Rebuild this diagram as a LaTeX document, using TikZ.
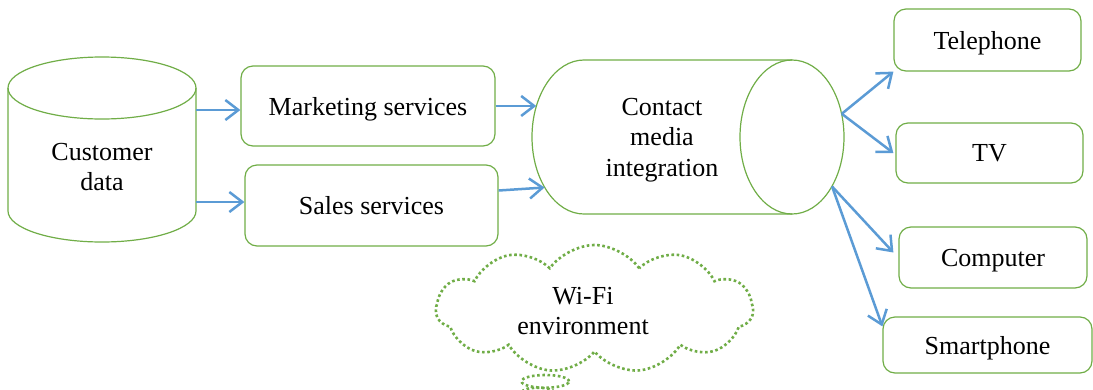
\documentclass[tikz,border=0pt]{standalone}
\usepackage{fontspec}
\setmainfont{Liberation Serif}
\usetikzlibrary{arrows.meta,shapes.geometric,shapes.callouts,shapes.symbols}
\definecolor{gr}{HTML}{70AD47}
\definecolor{bl}{HTML}{5B9BD5}
\begin{document}
\begin{tikzpicture}[x=1pt,y=-1pt,
  font=\fontsize{26}{30.5}\selectfont,
  gline/.style={draw=gr, line width=1.2pt},
  rbox/.style={gline, rounded corners=12pt, align=center, inner sep=0pt, text depth=0pt},
  arr/.style={draw=bl, line width=2.5pt, -{Straight Barb[length=13pt,width=20pt]}},
  ghost/.style={ellipse, inner sep=0pt, draw=none}]
\useasboundingbox (0,0) rectangle (1093,389);

% Customer data cylinder
\draw[gline] (8,88) -- (8,211) arc[start angle=180, end angle=360, x radius=94pt, y radius=31pt] -- (196,88);
\draw[gline] (102,88) ellipse[x radius=94pt, y radius=31pt];
\node[minimum width=188pt, minimum height=185pt, inner sep=0pt] (cd) at (102,150) {};
\node[align=center] (cdt) at (102,167) {Customer\\data};

% Boxes
\node[rbox, minimum width=254pt, minimum height=80pt] (mk) at (368,106) {Marketing services};
\node[rbox, minimum width=253pt, minimum height=81pt] (sl) at (371.5,205.5) {Sales services};

% Contact media integration cylinder
\draw[gline] (792,60) -- (584,60) arc[start angle=90, end angle=270, x radius=52pt, y radius=77pt] -- (792,214);
\draw[gline] (792,137) ellipse[x radius=52pt, y radius=77pt];
\node[ghost, minimum width=104pt, minimum height=154pt] (cmL) at (584,137) {};
\node[ghost, minimum width=104pt, minimum height=154pt] (cmR) at (792,137) {};
\node[align=center] (cm) at (662,140) {Contact\\media\\integration};

% Device boxes
\node[rbox, minimum width=187pt, minimum height=62pt] (tel) at (987.5,40) {Telephone};
\node[rbox, minimum width=187pt, minimum height=60pt] (tv) at (989.5,153) {TV};
\node[rbox, minimum width=188pt, minimum height=61pt] (comp) at (993,257.5) {Computer};
\node[rbox, minimum width=209pt, minimum height=56pt] (sm) at (987.5,345) {Smartphone};

% Cloud
\node[cloud callout, draw=gr, line width=2.6pt, dash pattern=on 2.6pt off 2.6pt,
  cloud puffs=11, cloud puff arc=110, cloud ignores aspect, minimum width=317pt, minimum height=128pt,
  callout absolute pointer={(538,392)}, inner sep=0pt] (wifi) at (594.5,309) {};
\node[align=center] (wifit) at (583,311) {Wi-Fi\\environment};

% Arrows
\draw[arr] (cd.east |- 0,110) -- (mk.west |- 0,110);
\draw[arr] (cd.east |- 0,202) -- (sl.west |- 0,202);
\draw[arr] (mk.east |- cmL.147) -- (cmL.147);
\draw[arr] ([yshift=15pt]sl.east) -- (cmL.232);
\draw[arr] (cmR.25) -- (tel.south west);
\draw[arr] (cmR.25) -- ([xshift=-2pt]tv.west);
\draw[arr] (cmR.-51) -- ([shift={(-5pt,5pt)}]comp.west);
\draw[arr] (cmR.-51) -- ([yshift=-10pt]sm.north west);
\end{tikzpicture}
\end{document}
